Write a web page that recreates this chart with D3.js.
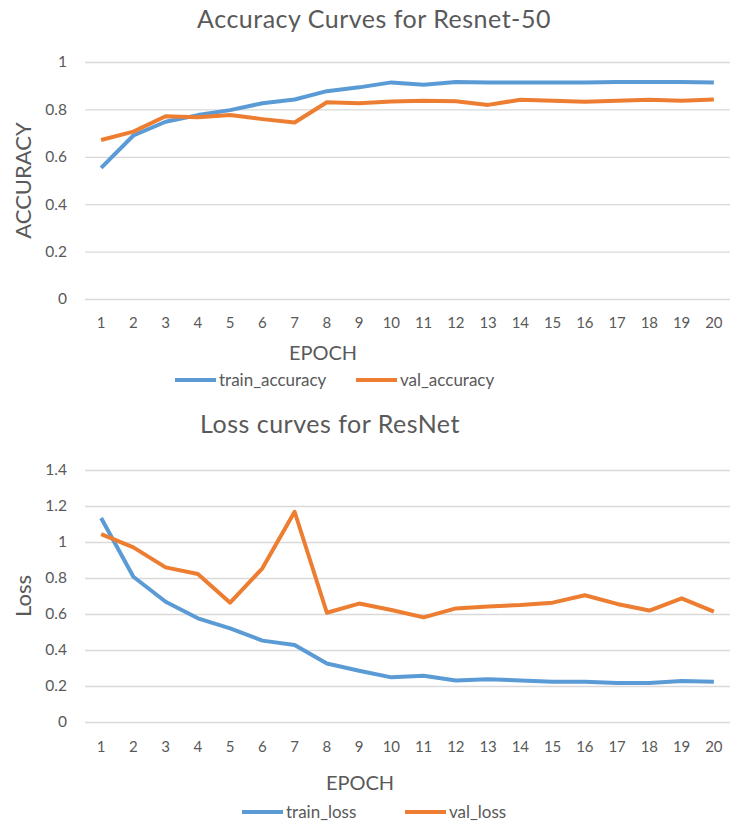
<!DOCTYPE html>
<html>
<head>
<meta charset="utf-8">
<script src="https://cdn.jsdelivr.net/npm/d3@7"></script>
<style>
body { margin: 0; background: #fff; }
text { font-family: Lato, "Open Sans", sans-serif; fill: #595959; }
</style>
</head>
<body>
<svg id="svg1" width="730" height="825"></svg>
<script>
var epochs = d3.range(1, 21)

var trainAcc = [0.553, 0.69, 0.748, 0.776, 0.797, 0.826, 0.842, 0.877, 0.893, 0.914,
                0.904, 0.916, 0.913, 0.914, 0.914, 0.914, 0.916, 0.916, 0.916, 0.913]
var valAcc = [0.671, 0.706, 0.771, 0.767, 0.776, 0.759, 0.745, 0.830, 0.826, 0.833,
              0.837, 0.834, 0.819, 0.841, 0.837, 0.832, 0.837, 0.841, 0.837, 0.842]

var trainLoss = [1.133, 0.807, 0.668, 0.576, 0.520, 0.452, 0.428, 0.325, 0.285, 0.248,
                 0.257, 0.230, 0.237, 0.231, 0.224, 0.224, 0.216, 0.216, 0.228, 0.224]
var valLoss = [1.044, 0.970, 0.859, 0.822, 0.663, 0.854, 1.168, 0.607, 0.658, 0.622,
               0.581, 0.631, 0.641, 0.650, 0.663, 0.704, 0.656, 0.619, 0.687, 0.613]

var accTicks = [0, 0.2, 0.4, 0.6, 0.8, 1]
var lossTicks = [0, 0.2, 0.4, 0.6, 0.8, 1, 1.2, 1.4]

var blue = "#5b9bd5"
var orange = "#ed7d31"

var svg = d3.select("#svg1")

// one chart: title, axes, two lines, legend
function chart(o) {
    var x = d3.scaleBand().domain(epochs).range([85, 730])
    var y = d3.scaleLinear().domain(o.domain).range([o.bottom, o.top])

    svg.append("text")
        .attr("x", o.titleX).attr("y", o.titleY)
        .attr("text-anchor", "middle")
        .style("font-size", "25px")
        .style("letter-spacing", "0.5px")
        .text(o.title)

    var ga = svg.append("g")
        .attr("transform", "translate(85,0)")
        .call(d3.axisLeft(y).tickValues(o.ticks).tickFormat(String)
            .tickSize(-645).tickPadding(18))
    ga.select(".domain").remove()
    ga.selectAll("line").attr("stroke", "#d9d9d9").attr("stroke-width", 1.3)
    ga.selectAll("text").style("font-size", "15.5px").style("fill", "#595959")

    var gx = svg.append("g")
        .attr("transform", "translate(0," + o.bottom + ")")
        .call(d3.axisBottom(x).tickSize(0).tickPadding(o.xpad))
    gx.select(".domain").remove()
    gx.selectAll("text").style("font-size", "15px").style("fill", "#595959")

    svg.append("text")
        .attr("transform", "translate(31," + (o.top + o.bottom) / 2 + ") rotate(-90)")
        .attr("text-anchor", "middle")
        .style("font-size", "22px")
        .text(o.ylabel)

    svg.append("text")
        .attr("x", o.epochX).attr("y", o.epochY)
        .attr("text-anchor", "middle")
        .style("font-size", "20px")
        .text("EPOCH")

    var line = d3.line()
        .x(function(d, i) { return x(epochs[i]) + x.bandwidth() / 2 })
        .y(function(d) { return y(d) })

    o.series.forEach(function(s) {
        svg.append("path")
            .attr("d", line(s.values))
            .attr("fill", "none")
            .attr("stroke", s.color)
            .attr("stroke-width", 4)
            .attr("stroke-linejoin", "round")
    })

    o.series.forEach(function(s, i) {
        var lx = o.legendX[i]
        svg.append("line")
            .attr("x1", lx).attr("x2", lx + 41)
            .attr("y1", o.legendY).attr("y2", o.legendY)
            .attr("stroke", s.color).attr("stroke-width", 4)
        svg.append("text")
            .attr("x", lx + 44).attr("y", o.legendY + 6)
            .style("font-size", "17px")
            .text(s.name)
    })
}

chart({
    title: "Accuracy Curves for Resnet-50", titleX: 374, titleY: 28,
    domain: [0, 1], top: 62, bottom: 299, ticks: accTicks, xpad: 18,
    ylabel: "ACCURACY", epochX: 323, epochY: 360,
    legendX: [175, 356], legendY: 380,
    series: [
        {name: "train_accuracy", values: trainAcc, color: blue},
        {name: "val_accuracy", values: valAcc, color: orange}
    ]
})

chart({
    title: "Loss curves for ResNet", titleX: 330, titleY: 433,
    domain: [0, 1.4], top: 470, bottom: 722, ticks: lossTicks, xpad: 19,
    ylabel: "Loss", epochX: 360, epochY: 790,
    legendX: [242, 405], legendY: 812,
    series: [
        {name: "train_loss", values: trainLoss, color: blue},
        {name: "val_loss", values: valLoss, color: orange}
    ]
})
</script>
</body>
</html>
